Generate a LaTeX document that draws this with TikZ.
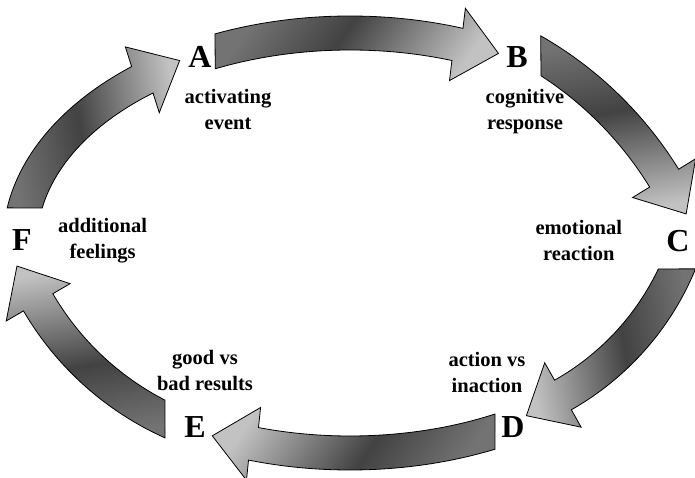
\documentclass[tikz,border=0pt]{standalone}
\usepackage{fontspec}
\setmainfont{Liberation Serif}
\usetikzlibrary{calc,positioning}

% medium at the tail, dark in the middle, light at the head
\pgfdeclarehorizontalshading{cycleshade}{100bp}{color(0bp)=(black!55); color(25bp)=(black!55); color(46bp)=(black!74); color(75bp)=(black!24); color(100bp)=(black!24)}

% #1,#2 centre, #3,#4 radii, #5 outer tail angle, #6 inner tail angle,
% #7 head angle, #8 shading angle
\newcommand\cyclearrow[8]{%
  \pgfmathsetmacro\arRo{#3+17}\pgfmathsetmacro\arSo{#4+17}%
  \pgfmathsetmacro\arRi{#3-17}\pgfmathsetmacro\arSi{#4-17}%
  \pgfmathsetmacro\arTx{#3*sin(#7)}%
  \pgfmathsetmacro\arTy{-#4*cos(#7)}%
  \pgfmathsetmacro\arTn{veclen(\arTx,\arTy)}%
  \pgfmathsetmacro\arUx{\arTx/\arTn}%
  \pgfmathsetmacro\arUy{\arTy/\arTn}%
  \pgfmathsetmacro\arBx{#1+#3*cos(#7)}%
  \pgfmathsetmacro\arBy{#2+#4*sin(#7)}%
  \pgfmathsetmacro\arOx{\arBx-37*\arUy}%
  \pgfmathsetmacro\arOy{\arBy+37*\arUx}%
  \pgfmathsetmacro\arIx{\arBx+37*\arUy}%
  \pgfmathsetmacro\arIy{\arBy-37*\arUx}%
  \pgfmathsetmacro\arPx{\arBx+42*\arUx}%
  \pgfmathsetmacro\arPy{\arBy+42*\arUy}%
  \pgfmathsetmacro\arSx{#1+\arRo*cos(#5)}%
  \pgfmathsetmacro\arSy{#2+\arSo*sin(#5)}%
  \pgfmathsetmacro\arQx{#1+\arRi*cos(#7)}%
  \pgfmathsetmacro\arQy{#2+\arSi*sin(#7)}%
  \path[cyclearrow,shading angle=#8] (\arSx,\arSy)
    arc[start angle=#5,end angle=#7,x radius=\arRo pt,y radius=\arSo pt]
    -- (\arOx,\arOy) -- (\arPx,\arPy) -- (\arIx,\arIy) -- (\arQx,\arQy)
    arc[start angle=#7,end angle=#6,x radius=\arRi pt,y radius=\arSi pt] -- cycle;
}

\begin{document}
\begin{tikzpicture}[x=1pt,y=1pt]

\tikzset{letter/.style={font=\bfseries\fontsize{32}{32}\selectfont,inner sep=0pt},
caption/.style={font=\bfseries\fontsize{20.5}{26}\selectfont,align=center,inner sep=0pt},
cyclearrow/.style={draw=black,line width=0.8pt,line join=miter,shading=cycleshade}}

\useasboundingbox (-350,-235) rectangle (345,243);

% Block arrows round the cycle
\cyclearrow{0}{0}{330}{210}{112.9}{115.5}{71}{-35}
\cyclearrow{-1}{-129}{370}{370}{60.3}{57.05}{31.6}{-80}
\cyclearrow{80}{83}{270}{270}{-22.3}{-25.5}{-60.5}{-170}
\cyclearrow{0}{0}{330}{210}{-65.3}{-62.4}{-107}{145}
\cyclearrow{-58}{89}{294}{294}{-114.1}{-117.3}{-149.7}{100}
\cyclearrow{0}{0}{330}{210}{171.1}{169.55}{129}{10}

% Stages
\node (A) [letter] at (-150,186) {A};
\node (B) [letter] at (167,186) {B};
\node (C) [letter] at (328,2) {C};
\node (D) [letter] at (163,-184) {D};
\node (E) [letter] at (-155,-184) {E};
\node (F) [letter] at (-328,3) {F};

% Captions
\node (actv) [caption,below=21pt of A,xshift=28pt] {activating\\event};
\node (cogn) [caption,below=21pt of B,xshift=8pt] {cognitive\\response};
\node (emot) [caption,left=44pt of C,yshift=1pt] {emotional\\reaction};
\node (actn) [caption,above=23pt of D,xshift=-26pt] {action vs\\inaction};
\node (good) [caption,above=25pt of E,xshift=10pt] {good vs\\bad results};
\node (addl) [caption,right=26pt of F,yshift=-1pt] {additional\\feelings};

\end{tikzpicture}
\end{document}
